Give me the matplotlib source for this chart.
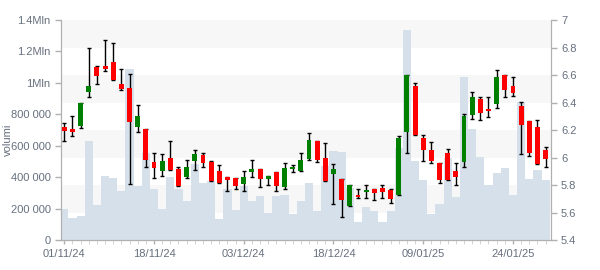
import numpy as np
import pandas as pd
import matplotlib
matplotlib.use("Agg")
import matplotlib.pyplot as plt

plt.rcParams["font.family"] = ["Liberation Sans", "DejaVu Sans"]

# trading days (Borsa Italiana calendar)
holidays = ["2024-12-24", "2024-12-25", "2024-12-26", "2024-12-31", "2025-01-01"]
dates = pd.bdate_range("2024-11-01", "2025-01-30", freq="C", holidays=holidays)

open_ = [6.22, 6.205, 6.23, 6.48, 6.658, 6.665, 6.695, 6.535, 6.505, 6.224,
         6.207, 5.967, 5.904, 5.996, 5.916, 5.858, 5.975, 6.018, 5.970, 5.904,
         5.856, 5.851, 5.81, 5.897, 5.916, 5.846, 5.895, 5.788, 5.919, 5.904,
         5.989, 6.12, 5.994, 5.882, 5.844, 5.649, 5.727, 5.749, 5.771, 5.778,
         5.764, 5.727, 6.188, 6.52, 6.142, 6.055, 5.96, 6.035, 5.902, 5.97,
         6.311, 6.423, 6.353, 6.391, 6.6, 6.52, 6.375, 6.263, 6.22, 6.052]
close = [6.195, 6.188, 6.396, 6.52, 6.595, 6.646, 6.566, 6.50, 6.26, 6.30,
         5.984, 5.926, 5.977, 5.911, 5.795, 5.931, 6.025, 5.962, 5.831, 5.817,
         5.839, 5.795, 5.858, 5.916, 5.846, 5.865, 5.795, 5.921, 5.931, 5.982,
         6.127, 5.982, 5.831, 5.916, 5.69, 5.80, 5.715, 5.761, 5.744, 5.751,
         5.70, 6.142, 6.60, 6.166, 6.057, 5.977, 5.839, 5.839, 5.86, 6.30,
         6.44, 6.326, 6.338, 6.585, 6.493, 6.471, 6.234, 6.03, 5.955, 5.991]
high = [6.249, 6.30, 6.396, 6.80, 6.663, 6.855, 6.83, 6.641, 6.61, 6.38,
        6.207, 6.03, 6.023, 6.118, 5.929, 5.98, 6.052, 6.033, 5.975, 5.943,
        5.856, 5.851, 5.902, 5.98, 5.916, 5.865, 5.895, 5.96, 5.943, 6.033,
        6.176, 6.12, 6.103, 5.951, 5.844, 5.80, 5.769, 5.802, 5.771, 5.798,
        5.771, 6.159, 6.60, 6.54, 6.161, 6.11, 5.96, 6.062, 5.958, 6.314,
        6.474, 6.44, 6.44, 6.634, 6.6, 6.583, 6.401, 6.263, 6.27, 6.074]
low = [6.118, 6.16, 6.212, 6.44, 6.532, 6.627, 6.566, 6.489, 5.805, 6.185,
       5.933, 5.849, 5.863, 5.911, 5.795, 5.849, 5.911, 5.929, 5.831, 5.817,
       5.754, 5.769, 5.754, 5.856, 5.783, 5.798, 5.754, 5.769, 5.892, 5.904,
       5.98, 5.97, 5.831, 5.66, 5.565, 5.649, 5.703, 5.703, 5.689, 5.703,
       5.667, 5.727, 6.033, 6.166, 5.972, 5.958, 5.812, 5.839, 5.798, 5.929,
       6.278, 6.27, 6.295, 6.358, 6.44, 6.447, 6.023, 6.009, 5.955, 5.929]
volume = [197, 140, 153, 630, 223, 407, 395, 312, 1088, 344,
          555, 327, 197, 401, 327, 250, 484, 363, 375, 134,
          325, 191, 344, 248, 280, 172, 280, 286, 165, 248,
          363, 185, 473, 566, 560, 329, 115, 210, 185, 115,
          185, 585, 1336, 503, 384, 165, 229, 522, 274, 1037,
          706, 528, 350, 426, 458, 286, 878, 388, 445, 382]
volume = np.array(volume) * 1000

vol_ticks = [0, 200000, 400000, 600000, 800000, 1000000, 1200000, 1400000]
vol_labels = ["0", "200 000", "400 000", "600 000", "800 000", "1Mln", "1.2Mln", "1.4Mln"]
price_ticks = [5.4, 5.6, 5.8, 6.0, 6.2, 6.4, 6.6, 6.8, 7.0]
price_labels = ["5.4", "5.6", "5.8", "6", "6.2", "6.4", "6.6", "6.8", "7"]
label_every = 11

txt = "#66707e"
axc = "#b0b0b0"

fig = plt.figure(figsize=(6, 2.7), dpi=100)
ax = fig.add_axes([61 / 600, 30 / 270, 489.5 / 600, 220 / 270])
ax2 = ax.twinx()

x = np.arange(len(dates))
vmin, vmax = 0, 1400000
pmin, pmax = 5.4, 7.0

# alternating bands following the price grid
for i in range(len(price_ticks) - 1):
    if (len(price_ticks) - 2 - i) % 2 == 0:
        lo = (price_ticks[i] - pmin) / (pmax - pmin) * vmax
        hi = (price_ticks[i + 1] - pmin) / (pmax - pmin) * vmax
        ax.axhspan(lo, hi, color="#f7f7f7", lw=0, zorder=0)

ax.bar(x, volume, width=1.0, color="#d6e0ea", lw=0, zorder=1)
ax.set_ylim(vmin, vmax)
ax.set_xlim(-0.4, 59.6)

# candles
o = np.array(open_)
c = np.array(close)
h = np.array(high)
l = np.array(low)
up = c >= o
ax2.errorbar(x, (h + l) / 2, yerr=[(h - l) / 2, (h - l) / 2], fmt="none",
             ecolor="black", elinewidth=1, capsize=1.6, capthick=1, zorder=2)
bottoms = np.minimum(o, c)
heights = np.maximum(np.abs(c - o), 0.012)
ax2.bar(x, heights, bottom=bottoms, width=0.6,
        color=np.where(up, "#008000", "#ff0000"), lw=0, zorder=3)
ax2.set_ylim(pmin, pmax)
ax2.set_xlim(-0.4, 59.6)

ax.set_yticks(vol_ticks)
ax.set_yticklabels(vol_labels)
ax2.set_yticks(price_ticks)
ax2.set_yticklabels(price_labels)

major = x[::label_every]
ax.set_xticks(x, minor=True)
ax.set_xticks(major)
ax.set_xticklabels([d.strftime("%d/%m/%y") for d in dates[::label_every]])

for a in (ax, ax2):
    a.spines["top"].set_visible(False)
    for s in ("left", "right", "bottom"):
        a.spines[s].set_color(axc)
    a.tick_params(colors=axc, labelcolor=txt, labelsize=8, length=4, width=1)
ax.tick_params(axis="x", which="minor", length=3, color="#cccccc")
ax.tick_params(axis="x", which="major", length=3, color=axc)

fig.text(8 / 600, 130 / 270, "volumi", color=txt, fontsize=8,
         rotation=90, ha="center", va="center")

fig.savefig("out.png", dpi=100)
